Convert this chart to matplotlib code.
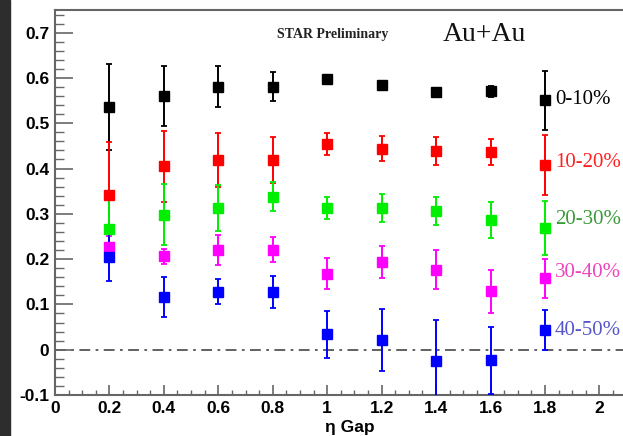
import numpy as np
import matplotlib
matplotlib.use("Agg")
from matplotlib import pyplot as plt
from matplotlib.ticker import MultipleLocator, FuncFormatter
from matplotlib.patches import Rectangle

# eta gap values
gap = [0.2, 0.4, 0.6, 0.8, 1.0, 1.2, 1.4, 1.6, 1.8]

# centrality classes
labels = ["0-10%", "10-20%", "20-30%", "30-40%", "40-50%"]

v_0_10 = [0.535, 0.560, 0.581, 0.581, 0.597, 0.584, 0.570, 0.571, 0.551]
e_0_10 = [0.095, 0.067, 0.045, 0.033, 0.010, 0.008, 0.005, 0.012, 0.065]

v_10_20 = [0.341, 0.405, 0.419, 0.419, 0.454, 0.444, 0.439, 0.436, 0.408]
e_10_20 = [0.117, 0.078, 0.059, 0.050, 0.024, 0.027, 0.031, 0.029, 0.067]

v_20_30 = [0.266, 0.298, 0.313, 0.338, 0.313, 0.313, 0.306, 0.286, 0.269]
e_20_30 = [0.065, 0.067, 0.050, 0.032, 0.025, 0.030, 0.031, 0.040, 0.060]

v_30_40 = [0.226, 0.206, 0.220, 0.221, 0.168, 0.194, 0.177, 0.129, 0.158]
e_30_40 = [0.025, 0.017, 0.033, 0.027, 0.034, 0.036, 0.044, 0.047, 0.043]

v_40_50 = [0.204, 0.117, 0.128, 0.127, 0.034, 0.021, -0.026, -0.023, 0.044]
e_40_50 = [0.053, 0.044, 0.028, 0.036, 0.052, 0.068, 0.092, 0.074, 0.044]

# label positions next to the last points
label_y = [0.552, 0.413, 0.287, 0.170, 0.042]

values = [v_0_10, v_10_20, v_20_30, v_30_40, v_40_50]
errors = [e_0_10, e_10_20, e_20_30, e_30_40, e_40_50]
colors = ["black", "#ff0000", "#00ee00", "#ff00ff", "#0000ff"]
text_colors = ["black", "#ff2020", "#3a9a3a", "#ee44bb", "#5555cc"]

W, H = 623, 436
fig = plt.figure(figsize=(W / 100, H / 100), dpi=100)
fig.patches.append(Rectangle((0, 0), 10 / W, 1, transform=fig.transFigure,
                             color="#2d2d2d", zorder=0))

xmax = 2.1
ax = fig.add_axes([55 / W, 41 / H, xmax * 272.2 / W, 385 / H])
ax.set_xlim(0, xmax)
ax.set_ylim(-0.1, 0.75)

ax.axhline(0, color="#555555", lw=1.3, ls=(0, (6, 3, 1.5, 3)), zorder=1)

for v, e, c in zip(values, errors, colors):
    ax.errorbar(gap, v, yerr=e, fmt="s", color=c, ms=6.5, elinewidth=1.4,
                capsize=2.5, capthick=1.3, zorder=3)

for lab, y, c in zip(labels, label_y, text_colors):
    ax.text(1.837, y, lab, color=c, fontsize=15, family="Liberation Serif",
            va="center", ha="left", clip_on=False)

ax.text(0.815, 0.697, "STAR Preliminary", fontsize=10, family="Liberation Serif",
        fontweight="bold", va="center", ha="left", color="#222222")
ax.text(1.425, 0.697, "Au+Au", fontsize=20, family="Liberation Serif",
        va="center", ha="left", color="#111111")

for s in ["top", "bottom", "left", "right"]:
    ax.spines[s].set_color("#666666")
    ax.spines[s].set_linewidth(1.5)

ax.xaxis.set_major_locator(MultipleLocator(0.2))
ax.xaxis.set_minor_locator(MultipleLocator(0.05))
ax.yaxis.set_major_locator(MultipleLocator(0.1))
ax.yaxis.set_minor_locator(MultipleLocator(0.02))
fmt = FuncFormatter(lambda x, p: "%g" % round(x, 2))
ax.xaxis.set_major_formatter(fmt)
ax.yaxis.set_major_formatter(fmt)

ax.tick_params(axis="y", which="major", direction="in", length=13, width=1.2,
               color="#666666", left=True, right=False, pad=4)
ax.tick_params(axis="y", which="minor", direction="in", length=6.5, width=1,
               color="#666666", left=True, right=False)
ax.tick_params(axis="x", which="major", direction="in", length=7, width=1.2,
               color="#666666", top=False, pad=4)
ax.tick_params(axis="x", which="minor", direction="in", length=3.5, width=1,
               color="#666666", top=False)
for t in ax.get_xticklabels() + ax.get_yticklabels():
    t.set_fontfamily("Liberation Sans")
    t.set_fontweight("bold")
    t.set_fontsize(12.5)

fig.text(350 / W, 1 - 427 / H, "η Gap", fontsize=12.5, family="Liberation Sans",
         fontweight="bold", ha="center", va="center")

fig.savefig("out.png", dpi=100)
